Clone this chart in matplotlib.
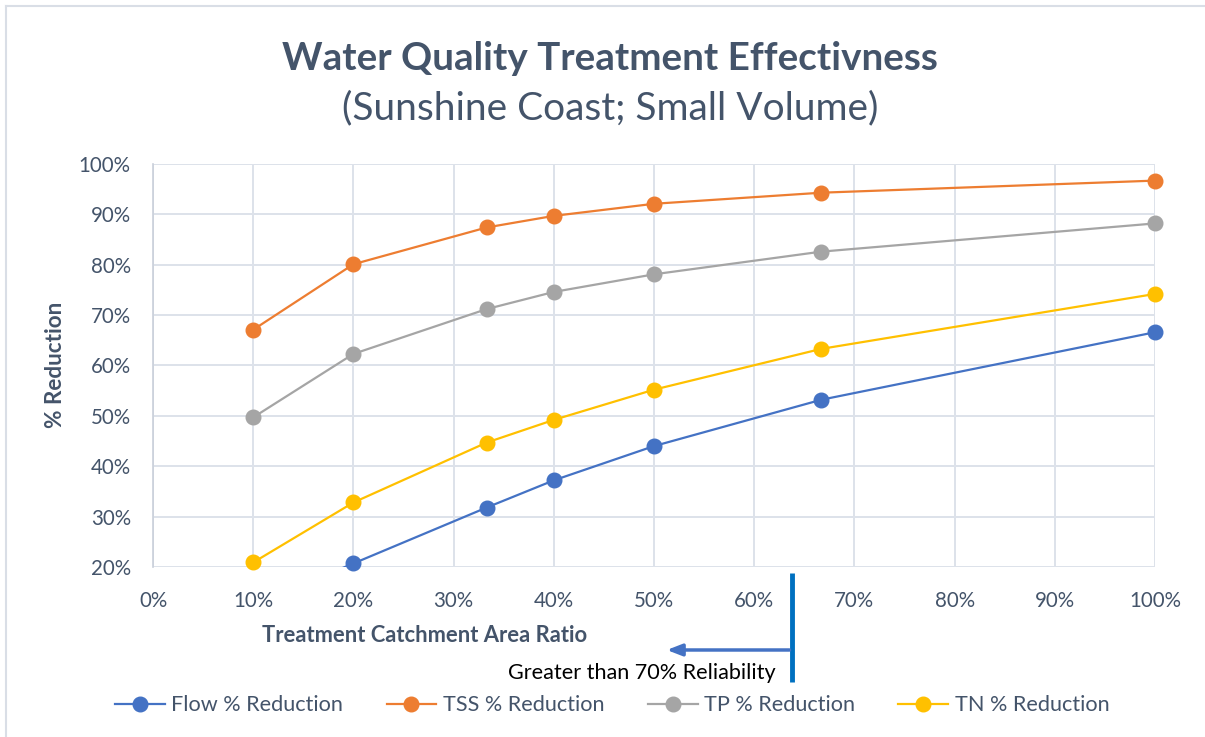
import matplotlib
matplotlib.use("Agg")
import matplotlib.pyplot as plt
import numpy as np
from matplotlib.lines import Line2D

# ---- data ----
ratio = [10, 20, 33.3, 40, 50, 66.7, 100]
flow = [12.4, 20.7, 31.8, 37.2, 44.0, 53.2, 66.6]
tss = [67.1, 80.1, 87.4, 89.7, 92.1, 94.3, 96.7]
tp = [49.7, 62.3, 71.2, 74.6, 78.1, 82.6, 88.2]
tn = [20.9, 32.8, 44.7, 49.2, 55.2, 63.3, 74.2]
series_names = ["Flow % Reduction", "TSS % Reduction", "TP % Reduction", "TN % Reduction"]
series_colors = ["#4472C4", "#ED7D31", "#A5A5A5", "#FFC000"]
x_ticks = [0, 10, 20, 30, 40, 50, 60, 70, 80, 90, 100]
y_ticks = [20, 30, 40, 50, 60, 70, 80, 90, 100]
reliability_x = 63.8
annotation_text = "Greater than 70% Reliability"

plt.rcParams['font.family'] = ['Lato', 'DejaVu Sans']
TXT = "#44546A"

fig = plt.figure(figsize=(12.05, 7.37), dpi=100)
ax = fig.add_axes([0.127, 0.2307, 0.8315, 0.5468])

ymin, ymax = 20, 100
for vals, name, col in zip([flow, tss, tp, tn], series_names, series_colors):
    ax.plot(ratio, vals, color=col, lw=1.6, zorder=3, clip_on=True)
    v = np.array(vals)
    x = np.array(ratio)
    m = (v >= ymin) & (v <= ymax)
    ax.plot(x[m], v[m], ls='none', marker='o', ms=10.5, color=col,
            markeredgecolor=col, zorder=4, clip_on=False)

ax.set_xlim(0, 100)
ax.set_ylim(ymin, ymax)
ax.set_xticks(x_ticks)
ax.set_yticks(y_ticks)
ax.set_xticklabels([f"{t}%" for t in x_ticks])
ax.set_yticklabels([f"{t}%" for t in y_ticks])
ax.tick_params(axis='both', length=0, labelsize=14.8, colors=TXT)
ax.tick_params(axis='x', pad=17)
ax.tick_params(axis='y', pad=16)
ax.grid(True, color="#DDE2EA", lw=1.4, zorder=0)
ax.set_axisbelow(True)
for s in ['top', 'right', 'bottom']:
    ax.spines[s].set_visible(False)
ax.spines['left'].set_color("#C9CFDA")
ax.spines['left'].set_linewidth(1.2)

# titles
fig.text(0.506, 0.921, "Water Quality Treatment Effectivness", ha='center', va='center',
         fontsize=27.8, fontweight='bold', color=TXT)
fig.text(0.506, 0.853, "(Sunshine Coast; Small Volume)", ha='center', va='center',
         fontsize=28, color=TXT)

# axis labels
fig.text(0.046, 0.505, "% Reduction", rotation=90, ha='center', va='center',
         fontsize=16.2, fontweight='bold', color=TXT)
fig.text(0.352, 0.138, "Treatment Catchment Area Ratio", ha='center', va='center',
         fontsize=15.8, fontweight='bold', color=TXT)

# reliability annotation
tr = ax.get_xaxis_transform()
ax.plot([reliability_x, reliability_x], [-0.015, -0.285], transform=tr, color="#0070C0",
        lw=3.5, clip_on=False, solid_capstyle='butt')
ax.annotate("", xy=(51.0, -0.206), xytext=(reliability_x, -0.206), xycoords=tr, textcoords=tr,
            arrowprops=dict(arrowstyle='-|>,head_length=0.9,head_width=0.35', color="#4472C4", lw=2.5),
            annotation_clip=False)
fig.text(0.533, 0.087, annotation_text, ha='center', va='center', fontsize=15.6, color='black')

# legend
handles = [Line2D([0], [0], color=c, lw=1.6, marker='o', ms=10.5) for c in series_colors]
fig.legend(handles, series_names, loc='center', bbox_to_anchor=(0.508, 0.043), ncol=4,
           frameon=False, fontsize=15.6, labelcolor=TXT, handlelength=2.3,
           columnspacing=2.0, handletextpad=0.3)

# chart border
fig.add_artist(Line2D([6 / 1205, 1], [1 - 6 / 737, 1 - 6 / 737], transform=fig.transFigure,
                      color="#D9DEE6", lw=1.5))
fig.add_artist(Line2D([6 / 1205, 6 / 1205], [0, 1 - 6 / 737], transform=fig.transFigure,
                      color="#D9DEE6", lw=1.5))

fig.savefig("out.png", dpi=100, facecolor='white')
